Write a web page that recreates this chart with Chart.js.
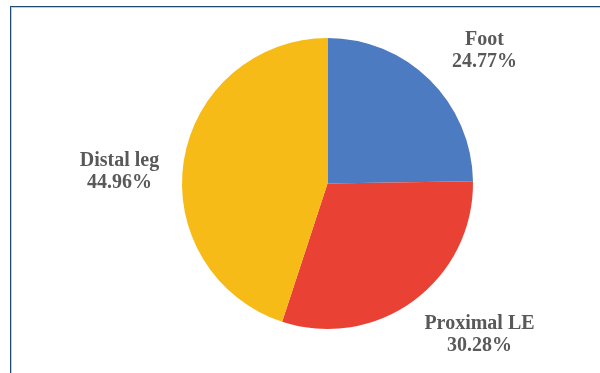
<!DOCTYPE html>
<html>
<head>
<meta charset="utf-8">
<script src="https://cdn.jsdelivr.net/npm/chart.js@4.4.0/dist/chart.umd.min.js"></script>
<style>
    html, body { margin: 0; padding: 0; background: #fff; }
    #wrap { position: relative; width: 600px; height: 373px; overflow: hidden; }
    #frame {
        position: absolute; left: 10px; top: 6px; width: 640px; height: 420px;
        border-top: 1px solid #1d4b74; border-left: 1px solid #1d4b74;
        box-shadow: inset 1px 1px 0 #b9cfe2;
    }
    #grafico { position: absolute; left: 0; top: 0; }
</style>
</head>
<body>
<div id="wrap">
    <div id="frame"></div>
    <canvas id="grafico" width="600" height="373"></canvas>
</div>
<script>
    // Datos del gráfico
    const categorias = ['Foot', 'Proximal LE', 'Distal leg'];
    const porcentajes = [24.77, 30.28, 44.96];
    const colores = ['#4d7bc1', '#e94234', '#f6bb16'];

    // Posición de cada etiqueta respecto al centro del pastel (px)
    const desplazamientos = [[157, -133], [152, 151], [-208, -12]];

    const etiquetasPlugin = {
        id: 'etiquetas',
        afterDraw(chart) {
            const ctx = chart.ctx;
            const arcos = chart.getDatasetMeta(0).data;
            ctx.save();
            ctx.font = 'bold 20px "Liberation Serif", "Times New Roman", serif';
            ctx.fillStyle = '#595959';
            ctx.textAlign = 'center';
            ctx.textBaseline = 'middle';
            arcos.forEach((arco, i) => {
                const x = arco.x + desplazamientos[i][0];
                const y = arco.y + desplazamientos[i][1];
                ctx.fillText(categorias[i], x, y - 11);
                ctx.fillText(porcentajes[i].toFixed(2) + '%', x, y + 11);
            });
            ctx.restore();
        }
    };

    new Chart(document.getElementById('grafico'), {
        type: 'pie',
        data: {
            labels: categorias,
            datasets: [{
                data: porcentajes,
                backgroundColor: colores,
                borderWidth: 0
            }]
        },
        options: {
            responsive: false,
            animation: false,
            layout: {
                padding: { left: 182, right: 127, top: 38, bottom: 44 }
            },
            plugins: {
                legend: { display: false },
                tooltip: { enabled: false }
            }
        },
        plugins: [etiquetasPlugin]
    });
</script>
</body>
</html>
